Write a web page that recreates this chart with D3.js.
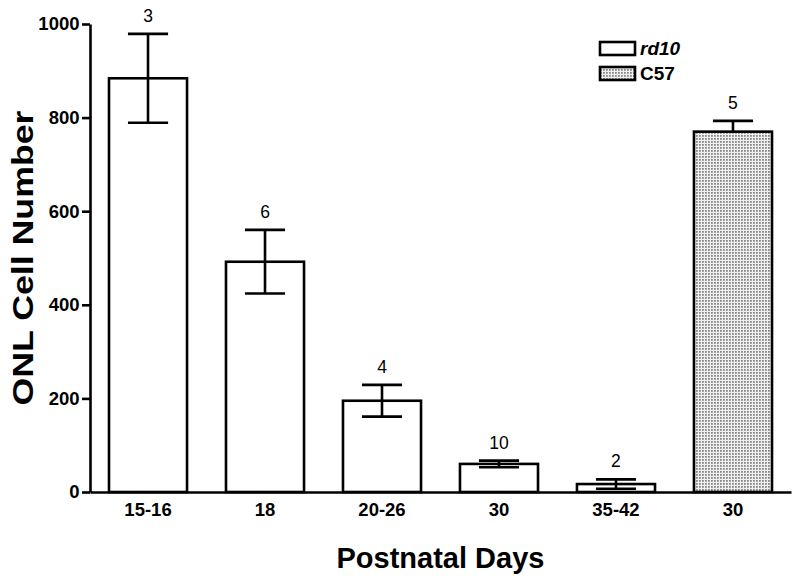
<!DOCTYPE html>
<html>
<head>
<meta charset="utf-8">
<script src="https://cdn.jsdelivr.net/npm/d3@7"></script>
<style>
  html, body { margin: 0; padding: 0; background: #fff; }
  svg { display: block; }
  text { font-family: "Liberation Sans", Arial, sans-serif; fill: #000; }
</style>
</head>
<body>
<svg id="chart" width="800" height="580"></svg>
<script>
// ---- data ----
const categories = ["15-16", "18", "20-26", "30", "35-42", "30"];
const groups = ["rd10", "rd10", "rd10", "rd10", "rd10", "C57"];
const means = [884, 492, 195, 60, 17, 770];
const errors = [95, 68, 34, 7, 10, 23];
const nLabels = ["3", "6", "4", "10", "2", "5"];
const yTicks = [0, 200, 400, 600, 800, 1000];
const legendItems = ["rd10", "C57"];

// ---- layout ----
const svg = d3.select("#chart");
const x0 = 90, x1 = 791, yTop = 24, yBase = 492;

const idx = categories.map((d, i) => i);
const x = d3.scaleBand().domain(idx).range([x0, x1]).paddingInner(0.333).paddingOuter(0.1624);
const y = d3.scaleLinear().domain([0, 1000]).range([yBase, yTop]);

// pattern
const defs = svg.append("defs");
const pat = defs.append("pattern").attr("id", "dots")
  .attr("patternUnits", "userSpaceOnUse").attr("width", 3).attr("height", 3);
pat.append("rect").attr("width", 3).attr("height", 3).attr("fill", "#f0f0f0");
pat.append("rect").attr("x", 0).attr("y", 0).attr("width", 1.8).attr("height", 1.8).attr("fill", "#888");

const fillFor = g => g === "C57" ? "url(#dots)" : "none";

// error bars (drawn first, bars over them)
const capHalf = x.bandwidth() * 0.257;
const eb = svg.append("g").attr("stroke", "#000").attr("stroke-width", 2.6).attr("fill", "none");
idx.forEach(i => {
  const cx = x(i) + x.bandwidth() / 2;
  const hi = y(means[i] + errors[i]), lo = y(means[i] - errors[i]);
  eb.append("line").attr("x1", cx).attr("x2", cx).attr("y1", hi).attr("y2", lo);
  eb.append("line").attr("x1", cx - capHalf).attr("x2", cx + capHalf).attr("y1", hi).attr("y2", hi);
  eb.append("line").attr("x1", cx - capHalf).attr("x2", cx + capHalf).attr("y1", lo).attr("y2", lo);
});

// bars
svg.append("g").selectAll("rect").data(idx).join("rect")
  .attr("x", i => x(i))
  .attr("width", x.bandwidth())
  .attr("y", i => y(means[i]))
  .attr("height", i => y(0) - y(means[i]))
  .attr("fill", i => fillFor(groups[i]))
  .attr("stroke", "#000")
  .attr("stroke-width", 2.6);

// n labels
svg.append("g").selectAll("text").data(idx).join("text")
  .attr("x", i => x(i) + x.bandwidth() / 2)
  .attr("y", i => y(means[i] + errors[i]) - 12)
  .attr("text-anchor", "middle")
  .attr("font-size", 17.5)
  .text(i => nLabels[i]);

// y axis
const yAxis = svg.append("g").attr("transform", `translate(${x0},0)`)
  .call(d3.axisLeft(y).tickValues(yTicks).tickFormat(d3.format("d"))
    .tickSize(8).tickSizeOuter(0).tickPadding(2.5));
yAxis.select(".domain").attr("stroke", "#000").attr("stroke-width", 2.6);
yAxis.selectAll(".tick line").attr("stroke", "#000").attr("stroke-width", 2.6);
yAxis.selectAll(".tick text").attr("font-size", 18.5).attr("font-weight", "bold")
  .attr("font-family", "'Liberation Sans', Arial, sans-serif").attr("fill", "#000");

// x axis
const xAxis = svg.append("g").attr("transform", `translate(0,${yBase})`)
  .call(d3.axisBottom(x).tickSize(0).tickSizeOuter(0).tickPadding(10.6).tickFormat(i => categories[i]));
xAxis.select(".domain").attr("stroke", "#000").attr("stroke-width", 2.6);
xAxis.selectAll(".tick text").attr("font-size", 18.5).attr("font-weight", "bold")
  .attr("font-family", "'Liberation Sans', Arial, sans-serif").attr("fill", "#000");

// axis titles
svg.append("text")
  .attr("x", (x0 + x1) / 2).attr("y", 567.5)
  .attr("text-anchor", "middle").attr("font-size", 29).attr("font-weight", "bold")
  .text("Postnatal Days");

svg.append("text")
  .attr("transform", `translate(33,${(yTop + yBase) / 2}) rotate(-90)`)
  .attr("text-anchor", "middle").attr("font-size", 29).attr("font-weight", "bold")
  .attr("textLength", 295).attr("lengthAdjust", "spacingAndGlyphs")
  .text("ONL Cell Number");

// legend
const lg = svg.append("g");
legendItems.forEach((name, k) => {
  const ty = 42 + k * 25;
  lg.append("rect").attr("x", 600).attr("y", ty).attr("width", 35).attr("height", 13)
    .attr("fill", name === "C57" ? "url(#dots)" : "#fff")
    .attr("stroke", "#000").attr("stroke-width", 2.6);
  lg.append("text").attr("x", 640).attr("y", ty + 13)
    .attr("font-size", 19).attr("font-weight", "bold")
    .attr("font-style", name === "rd10" ? "italic" : "normal")
    .text(name);
});
</script>
</body>
</html>
